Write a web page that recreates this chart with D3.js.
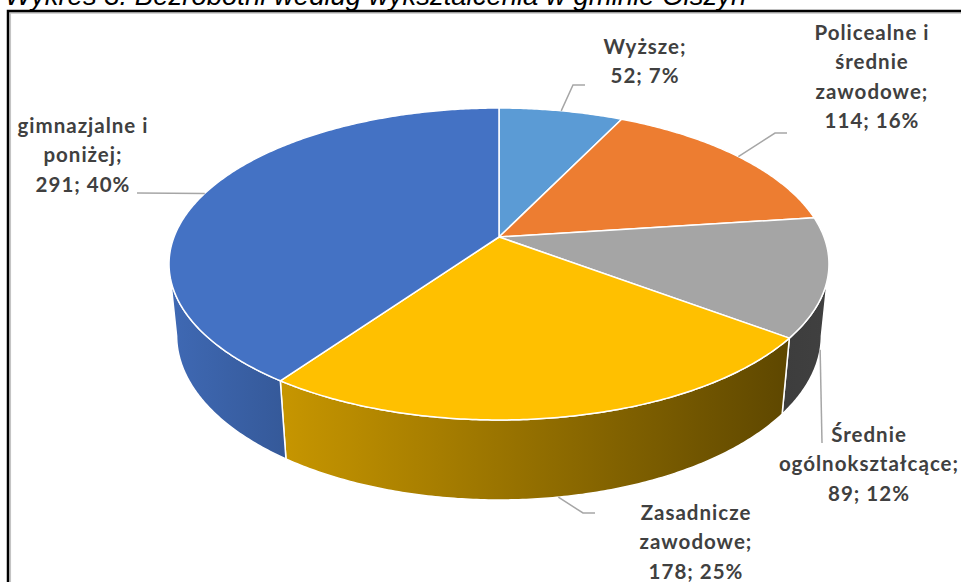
<!DOCTYPE html>
<html>
<head>
<meta charset="utf-8">
<script src="https://d3js.org/d3.v7.min.js"></script>
<style>
  html, body { margin: 0; padding: 0; background: #fff; }
  svg { display: block; }
</style>
</head>
<body>
<svg id="chart" width="961" height="582"></svg>
<script>
// data
var categories = ['Wyższe', 'Policealne i średnie zawodowe', 'Średnie ogólnokształcące', 'Zasadnicze zawodowe', 'gimnazjalne i poniżej'];
var values = [52, 114, 89, 178, 291];
var colors = ['#5B9BD5', '#ED7D31', '#A5A5A5', '#FFC000', '#4472C4'];
var title = 'Wykres 3. Bezrobotni według wykształcenia w gminie Olszyn';

// label placement (text centre, first baseline, leader elbow and end)
var labelLayout = [
  {x: 645, y: 54, elbow: [573, 85], end: [585, 85]},
  {x: 872, y: 40, elbow: [775, 133], end: [787, 133]},
  {x: 869, y: 442, elbow: null, end: [822, 443]},
  {x: 696, y: 520, elbow: [583, 513], end: [595, 513]},
  {x: 83, y: 133, elbow: null, end: [137, 193]}
];

var W = 961, H = 582;
var svg = d3.select('#chart');

// perspective camera for the 3d disc (radius 1)
var cam = {x0: 499, y0: 237, f: 1662, D: 5.114, s: 0.4655, c: 0.885, T: 0.251};

function proj(theta, h, r){
  if(r === undefined) r = 1;
  var x = r * Math.sin(theta), z = -r * Math.cos(theta);
  var cy = h * cam.c - z * cam.s;
  var d = cam.D - h * cam.s - z * cam.c;
  return [cam.x0 + cam.f * x / d, cam.y0 - cam.f * cy / d];
}

var total = d3.sum(values);
var pie = d3.pie().sort(null).value(function(d){ return d; });
var arcs = pie(values);
var pct = d3.format('.0%');
var line = d3.line();

function arcPoints(a0, a1, h){
  var n = Math.max(2, Math.ceil(Math.abs(a1 - a0) / 0.01));
  return d3.range(n + 1).map(function(i){ return proj(a0 + (a1 - a0) * i / n, h); });
}

// title (clipped at the top of the picture)
svg.append('text')
  .attr('x', 5)
  .attr('y', 4.5)
  .attr('font-family', 'Liberation Sans, Arial, sans-serif')
  .attr('font-style', 'italic')
  .attr('font-size', 27.5)
  .attr('fill', '#000')
  .text(title);

// frame
svg.append('path')
  .attr('d', 'M10.3,' + H + 'V13H' + W)
  .attr('fill', 'none').attr('stroke', '#c4c4c4').attr('stroke-width', 1.5);
svg.append('path')
  .attr('d', 'M8,' + H + 'V11H' + W)
  .attr('fill', 'none').attr('stroke', '#000').attr('stroke-width', 2.5);

var defs = svg.append('defs');

// side shading as a function of angle (fraction of the base colour kept)
var shade = d3.scaleLinear()
  .domain([100, 127, 215, 260].map(function(a){ return a * Math.PI / 180; }))
  .range([0.39, 0.37, 0.78, 0.92])
  .clamp(true);

function darken(col, k){
  var c = d3.rgb(col);
  return d3.rgb(c.r * k, c.g * k, c.b * k).formatHex();
}

// visible part of the rim
var thS = Math.acos(-cam.c / cam.D);
var thE = 2 * Math.PI - thS;

var sides = svg.append('g');
arcs.forEach(function(a, i){
  var a0 = Math.max(a.startAngle, thS), a1 = Math.min(a.endAngle, thE);
  if(a1 <= a0) return;
  var top = arcPoints(a0, a1, 0);
  var bot = arcPoints(a1, a0, -cam.T);
  var pts = top.concat(bot);
  var xs = pts.map(function(p){ return p[0]; });
  var xl = d3.min(xs), xr = d3.max(xs);
  // left end of the rim has the larger angle
  var kl = shade(a1), kr = shade(a0);
  var gid = 'side' + i;
  var g = defs.append('linearGradient')
    .attr('id', gid)
    .attr('gradientUnits', 'userSpaceOnUse')
    .attr('x1', xl).attr('x2', xr).attr('y1', 0).attr('y2', 0);
  g.append('stop').attr('offset', 0).attr('stop-color', darken(colors[i], kl));
  g.append('stop').attr('offset', 1).attr('stop-color', darken(colors[i], kr));
  sides.append('path')
    .attr('d', line(pts) + 'Z')
    .attr('fill', 'url(#' + gid + ')')
    .attr('stroke', '#fff')
    .attr('stroke-width', 1.5)
    .attr('stroke-linejoin', 'round');
});

// top faces
var tops = svg.append('g');
arcs.forEach(function(a, i){
  var pts = [proj(0, 0, 0)].concat(arcPoints(a.startAngle, a.endAngle, 0));
  tops.append('path')
    .attr('d', line(pts) + 'Z')
    .attr('fill', colors[i])
    .attr('stroke', '#fff')
    .attr('stroke-width', 1.5)
    .attr('stroke-linejoin', 'round');
});

// leader lines
var leaders = svg.append('g');
arcs.forEach(function(a, i){
  var mid = (a.startAngle + a.endAngle) / 2;
  var front = mid > thS && mid < thE;
  var anchor = proj(mid, front ? -cam.T : 0);
  var lay = labelLayout[i];
  var pts = [anchor];
  if(lay.elbow) pts.push(lay.elbow);
  pts.push(lay.end);
  leaders.append('path')
    .attr('d', line(pts))
    .attr('fill', 'none')
    .attr('stroke', '#a6a6a6')
    .attr('stroke-width', 1.5);
});

// data labels
var fontSize = 20.5, spacing = 1;
var labels = svg.append('g')
  .attr('font-family', 'Lato, sans-serif')
  .attr('font-weight', 'bold')
  .attr('font-size', fontSize)
  .attr('letter-spacing', spacing)
  .attr('fill', '#404040')
  .attr('text-anchor', 'middle');

var probe = svg.append('text')
  .attr('font-family', 'Lato, sans-serif')
  .attr('font-weight', 'bold')
  .attr('font-size', fontSize)
  .attr('letter-spacing', spacing);

function wrap(str, maxW){
  var words = str.split(' ');
  var out = [], cur = '';
  words.forEach(function(w){
    var t = cur ? cur + ' ' + w : w;
    probe.text(t);
    if(cur && probe.node().getComputedTextLength() > maxW){
      out.push(cur);
      cur = w;
    }else{
      cur = t;
    }
  });
  out.push(cur);
  return out;
}

categories.forEach(function(name, i){
  var lines = wrap(name, 150);
  lines[lines.length - 1] += ';';
  lines.push(values[i] + '; ' + pct(values[i] / total));
  var lay = labelLayout[i];
  var t = labels.append('text');
  lines.forEach(function(l, j){
    t.append('tspan')
      .attr('x', lay.x)
      .attr('y', lay.y + j * 29.3)
      .text(l);
  });
});
probe.remove();
</script>
</body>
</html>
